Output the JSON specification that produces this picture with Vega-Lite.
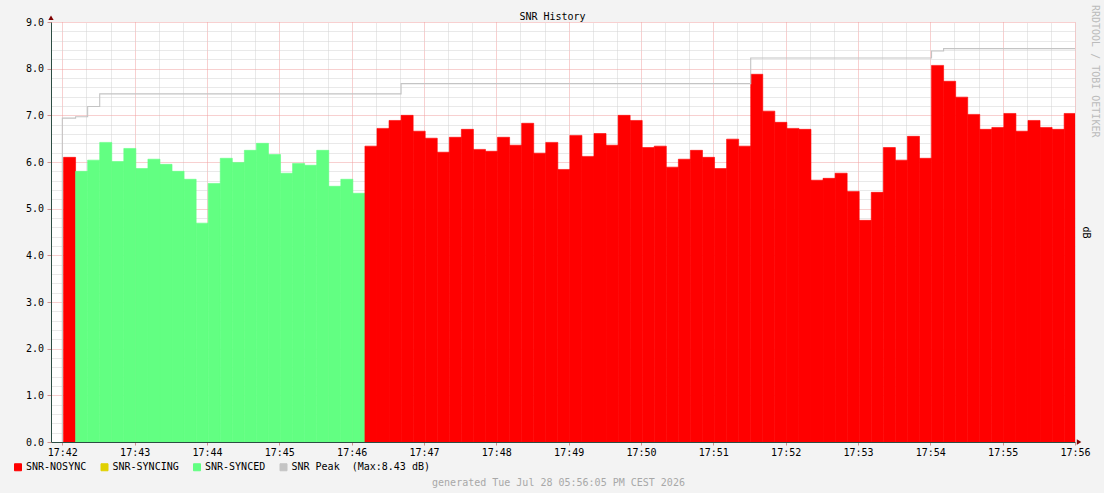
{
  "$schema": "https://vega.github.io/schema/vega-lite/v6.json",
  "description": "SNR History, rrdtool style",
  "width": 1024,
  "height": 420,
  "autosize": {"type": "none"},
  "padding": {"left": 51, "top": 22, "right": 29, "bottom": 51},
  "config": {
    "background": "#f3f3f3",
    "view": {"stroke": null, "fill": "#ffffff"},
    "font": "DejaVu Sans Mono"
  },
  "title": {
    "text": "RRDTOOL / TOBI OETIKER",
    "orient": "right",
    "anchor": "start",
    "frame": "bounds",
    "baseline": "alphabetic",
    "offset": -9,
    "dx": -6,
    "font": "DejaVu Sans Mono",
    "fontSize": 10,
    "fontWeight": "normal",
    "color": "#bbbbbb"
  },
  "datasets": {
    "snr": [
      {"t": "2026-07-28T17:42:01", "e": "2026-07-28T17:42:11", "v": 6.10, "s": "SNR-NOSYNC"},
      {"t": "2026-07-28T17:42:11", "e": "2026-07-28T17:42:21", "v": 5.80, "s": "SNR-SYNCED"},
      {"t": "2026-07-28T17:42:21", "e": "2026-07-28T17:42:31", "v": 6.04, "s": "SNR-SYNCED"},
      {"t": "2026-07-28T17:42:31", "e": "2026-07-28T17:42:41", "v": 6.42, "s": "SNR-SYNCED"},
      {"t": "2026-07-28T17:42:41", "e": "2026-07-28T17:42:51", "v": 6.01, "s": "SNR-SYNCED"},
      {"t": "2026-07-28T17:42:51", "e": "2026-07-28T17:43:01", "v": 6.29, "s": "SNR-SYNCED"},
      {"t": "2026-07-28T17:43:01", "e": "2026-07-28T17:43:11", "v": 5.86, "s": "SNR-SYNCED"},
      {"t": "2026-07-28T17:43:11", "e": "2026-07-28T17:43:21", "v": 6.06, "s": "SNR-SYNCED"},
      {"t": "2026-07-28T17:43:21", "e": "2026-07-28T17:43:31", "v": 5.95, "s": "SNR-SYNCED"},
      {"t": "2026-07-28T17:43:31", "e": "2026-07-28T17:43:41", "v": 5.80, "s": "SNR-SYNCED"},
      {"t": "2026-07-28T17:43:41", "e": "2026-07-28T17:43:51", "v": 5.63, "s": "SNR-SYNCED"},
      {"t": "2026-07-28T17:43:51", "e": "2026-07-28T17:44:01", "v": 4.69, "s": "SNR-SYNCED"},
      {"t": "2026-07-28T17:44:01", "e": "2026-07-28T17:44:11", "v": 5.54, "s": "SNR-SYNCED"},
      {"t": "2026-07-28T17:44:11", "e": "2026-07-28T17:44:21", "v": 6.08, "s": "SNR-SYNCED"},
      {"t": "2026-07-28T17:44:21", "e": "2026-07-28T17:44:31", "v": 5.99, "s": "SNR-SYNCED"},
      {"t": "2026-07-28T17:44:31", "e": "2026-07-28T17:44:41", "v": 6.25, "s": "SNR-SYNCED"},
      {"t": "2026-07-28T17:44:41", "e": "2026-07-28T17:44:51", "v": 6.40, "s": "SNR-SYNCED"},
      {"t": "2026-07-28T17:44:51", "e": "2026-07-28T17:45:01", "v": 6.16, "s": "SNR-SYNCED"},
      {"t": "2026-07-28T17:45:01", "e": "2026-07-28T17:45:11", "v": 5.76, "s": "SNR-SYNCED"},
      {"t": "2026-07-28T17:45:11", "e": "2026-07-28T17:45:21", "v": 5.97, "s": "SNR-SYNCED"},
      {"t": "2026-07-28T17:45:21", "e": "2026-07-28T17:45:31", "v": 5.93, "s": "SNR-SYNCED"},
      {"t": "2026-07-28T17:45:31", "e": "2026-07-28T17:45:41", "v": 6.25, "s": "SNR-SYNCED"},
      {"t": "2026-07-28T17:45:41", "e": "2026-07-28T17:45:51", "v": 5.48, "s": "SNR-SYNCED"},
      {"t": "2026-07-28T17:45:51", "e": "2026-07-28T17:46:01", "v": 5.63, "s": "SNR-SYNCED"},
      {"t": "2026-07-28T17:46:01", "e": "2026-07-28T17:46:11", "v": 5.33, "s": "SNR-SYNCED"},
      {"t": "2026-07-28T17:46:11", "e": "2026-07-28T17:46:21", "v": 6.34, "s": "SNR-NOSYNC"},
      {"t": "2026-07-28T17:46:21", "e": "2026-07-28T17:46:31", "v": 6.72, "s": "SNR-NOSYNC"},
      {"t": "2026-07-28T17:46:31", "e": "2026-07-28T17:46:41", "v": 6.89, "s": "SNR-NOSYNC"},
      {"t": "2026-07-28T17:46:41", "e": "2026-07-28T17:46:51", "v": 7.00, "s": "SNR-NOSYNC"},
      {"t": "2026-07-28T17:46:51", "e": "2026-07-28T17:47:01", "v": 6.66, "s": "SNR-NOSYNC"},
      {"t": "2026-07-28T17:47:01", "e": "2026-07-28T17:47:11", "v": 6.51, "s": "SNR-NOSYNC"},
      {"t": "2026-07-28T17:47:11", "e": "2026-07-28T17:47:21", "v": 6.21, "s": "SNR-NOSYNC"},
      {"t": "2026-07-28T17:47:21", "e": "2026-07-28T17:47:31", "v": 6.53, "s": "SNR-NOSYNC"},
      {"t": "2026-07-28T17:47:31", "e": "2026-07-28T17:47:41", "v": 6.70, "s": "SNR-NOSYNC"},
      {"t": "2026-07-28T17:47:41", "e": "2026-07-28T17:47:51", "v": 6.27, "s": "SNR-NOSYNC"},
      {"t": "2026-07-28T17:47:51", "e": "2026-07-28T17:48:01", "v": 6.23, "s": "SNR-NOSYNC"},
      {"t": "2026-07-28T17:48:01", "e": "2026-07-28T17:48:11", "v": 6.53, "s": "SNR-NOSYNC"},
      {"t": "2026-07-28T17:48:11", "e": "2026-07-28T17:48:21", "v": 6.36, "s": "SNR-NOSYNC"},
      {"t": "2026-07-28T17:48:21", "e": "2026-07-28T17:48:31", "v": 6.83, "s": "SNR-NOSYNC"},
      {"t": "2026-07-28T17:48:31", "e": "2026-07-28T17:48:41", "v": 6.19, "s": "SNR-NOSYNC"},
      {"t": "2026-07-28T17:48:41", "e": "2026-07-28T17:48:51", "v": 6.42, "s": "SNR-NOSYNC"},
      {"t": "2026-07-28T17:48:51", "e": "2026-07-28T17:49:01", "v": 5.84, "s": "SNR-NOSYNC"},
      {"t": "2026-07-28T17:49:01", "e": "2026-07-28T17:49:11", "v": 6.57, "s": "SNR-NOSYNC"},
      {"t": "2026-07-28T17:49:11", "e": "2026-07-28T17:49:21", "v": 6.12, "s": "SNR-NOSYNC"},
      {"t": "2026-07-28T17:49:21", "e": "2026-07-28T17:49:31", "v": 6.61, "s": "SNR-NOSYNC"},
      {"t": "2026-07-28T17:49:31", "e": "2026-07-28T17:49:41", "v": 6.36, "s": "SNR-NOSYNC"},
      {"t": "2026-07-28T17:49:41", "e": "2026-07-28T17:49:51", "v": 7.00, "s": "SNR-NOSYNC"},
      {"t": "2026-07-28T17:49:51", "e": "2026-07-28T17:50:01", "v": 6.89, "s": "SNR-NOSYNC"},
      {"t": "2026-07-28T17:50:01", "e": "2026-07-28T17:50:11", "v": 6.31, "s": "SNR-NOSYNC"},
      {"t": "2026-07-28T17:50:11", "e": "2026-07-28T17:50:21", "v": 6.34, "s": "SNR-NOSYNC"},
      {"t": "2026-07-28T17:50:21", "e": "2026-07-28T17:50:31", "v": 5.89, "s": "SNR-NOSYNC"},
      {"t": "2026-07-28T17:50:31", "e": "2026-07-28T17:50:41", "v": 6.06, "s": "SNR-NOSYNC"},
      {"t": "2026-07-28T17:50:41", "e": "2026-07-28T17:50:51", "v": 6.25, "s": "SNR-NOSYNC"},
      {"t": "2026-07-28T17:50:51", "e": "2026-07-28T17:51:01", "v": 6.10, "s": "SNR-NOSYNC"},
      {"t": "2026-07-28T17:51:01", "e": "2026-07-28T17:51:11", "v": 5.86, "s": "SNR-NOSYNC"},
      {"t": "2026-07-28T17:51:11", "e": "2026-07-28T17:51:21", "v": 6.49, "s": "SNR-NOSYNC"},
      {"t": "2026-07-28T17:51:21", "e": "2026-07-28T17:51:31", "v": 6.34, "s": "SNR-NOSYNC"},
      {"t": "2026-07-28T17:51:31", "e": "2026-07-28T17:51:41", "v": 7.88, "s": "SNR-NOSYNC"},
      {"t": "2026-07-28T17:51:41", "e": "2026-07-28T17:51:51", "v": 7.09, "s": "SNR-NOSYNC"},
      {"t": "2026-07-28T17:51:51", "e": "2026-07-28T17:52:01", "v": 6.85, "s": "SNR-NOSYNC"},
      {"t": "2026-07-28T17:52:01", "e": "2026-07-28T17:52:11", "v": 6.72, "s": "SNR-NOSYNC"},
      {"t": "2026-07-28T17:52:11", "e": "2026-07-28T17:52:21", "v": 6.70, "s": "SNR-NOSYNC"},
      {"t": "2026-07-28T17:52:21", "e": "2026-07-28T17:52:31", "v": 5.61, "s": "SNR-NOSYNC"},
      {"t": "2026-07-28T17:52:31", "e": "2026-07-28T17:52:41", "v": 5.65, "s": "SNR-NOSYNC"},
      {"t": "2026-07-28T17:52:41", "e": "2026-07-28T17:52:51", "v": 5.76, "s": "SNR-NOSYNC"},
      {"t": "2026-07-28T17:52:51", "e": "2026-07-28T17:53:01", "v": 5.37, "s": "SNR-NOSYNC"},
      {"t": "2026-07-28T17:53:01", "e": "2026-07-28T17:53:11", "v": 4.75, "s": "SNR-NOSYNC"},
      {"t": "2026-07-28T17:53:11", "e": "2026-07-28T17:53:21", "v": 5.35, "s": "SNR-NOSYNC"},
      {"t": "2026-07-28T17:53:21", "e": "2026-07-28T17:53:31", "v": 6.31, "s": "SNR-NOSYNC"},
      {"t": "2026-07-28T17:53:31", "e": "2026-07-28T17:53:41", "v": 6.04, "s": "SNR-NOSYNC"},
      {"t": "2026-07-28T17:53:41", "e": "2026-07-28T17:53:51", "v": 6.55, "s": "SNR-NOSYNC"},
      {"t": "2026-07-28T17:53:51", "e": "2026-07-28T17:54:01", "v": 6.08, "s": "SNR-NOSYNC"},
      {"t": "2026-07-28T17:54:01", "e": "2026-07-28T17:54:11", "v": 8.07, "s": "SNR-NOSYNC"},
      {"t": "2026-07-28T17:54:11", "e": "2026-07-28T17:54:21", "v": 7.73, "s": "SNR-NOSYNC"},
      {"t": "2026-07-28T17:54:21", "e": "2026-07-28T17:54:31", "v": 7.39, "s": "SNR-NOSYNC"},
      {"t": "2026-07-28T17:54:31", "e": "2026-07-28T17:54:41", "v": 7.02, "s": "SNR-NOSYNC"},
      {"t": "2026-07-28T17:54:41", "e": "2026-07-28T17:54:51", "v": 6.70, "s": "SNR-NOSYNC"},
      {"t": "2026-07-28T17:54:51", "e": "2026-07-28T17:55:01", "v": 6.74, "s": "SNR-NOSYNC"},
      {"t": "2026-07-28T17:55:01", "e": "2026-07-28T17:55:11", "v": 7.04, "s": "SNR-NOSYNC"},
      {"t": "2026-07-28T17:55:11", "e": "2026-07-28T17:55:21", "v": 6.66, "s": "SNR-NOSYNC"},
      {"t": "2026-07-28T17:55:21", "e": "2026-07-28T17:55:31", "v": 6.89, "s": "SNR-NOSYNC"},
      {"t": "2026-07-28T17:55:31", "e": "2026-07-28T17:55:41", "v": 6.74, "s": "SNR-NOSYNC"},
      {"t": "2026-07-28T17:55:41", "e": "2026-07-28T17:55:51", "v": 6.70, "s": "SNR-NOSYNC"},
      {"t": "2026-07-28T17:55:51", "e": "2026-07-28T17:56:01", "v": 7.04, "s": "SNR-NOSYNC"}
    ],
    "peak": [
      {"t": "2026-07-28T17:42:00", "v": 0},
      {"t": "2026-07-28T17:42:00", "v": 6.94},
      {"t": "2026-07-28T17:42:11", "v": 6.97},
      {"t": "2026-07-28T17:42:21", "v": 7.19},
      {"t": "2026-07-28T17:42:31", "v": 7.46},
      {"t": "2026-07-28T17:46:41", "v": 7.68},
      {"t": "2026-07-28T17:51:31", "v": 8.23},
      {"t": "2026-07-28T17:54:01", "v": 8.38},
      {"t": "2026-07-28T17:54:11", "v": 8.43},
      {"t": "2026-07-28T17:56:00", "v": 8.43}
    ]
  },
  "resolve": {"axis": {"x": "independent", "y": "independent"}},
  "layer": [
    {
      "data": {"name": "snr"},
      "mark": {"type": "rect", "clip": true, "strokeWidth": 0.6},
      "encoding": {
        "x": {
          "field": "t",
          "type": "temporal",
          "scale": {
            "domain": [
              {"year": 2026, "month": 7, "date": 28, "hours": 17, "minutes": 41, "seconds": 50, "milliseconds": 600},
              {"year": 2026, "month": 7, "date": 28, "hours": 17, "minutes": 56, "seconds": 0}
            ]
          },
          "axis": {
            "orient": "bottom",
            "title": "generated Tue Jul 28 05:56:05 PM CEST 2026",
            "titleFont": "DejaVu Sans Mono",
            "titleFontSize": 10,
            "titleFontWeight": "normal",
            "titleColor": "#a8a8a8",
            "titleX": 507,
            "titleY": 43,
            "titleAlign": "center",
            "titleBaseline": "alphabetic",
            "tickCount": 14,
            "format": "%H:%M",
            "labelFont": "DejaVu Sans Mono",
            "labelFontSize": 10,
            "labelColor": "#000000",
            "labelPadding": 2,
            "labelOverlap": false,
            "labelFlush": false,
            "tickSize": 3,
            "tickColor": "#d09090",
            "grid": true,
            "gridDash": [1, 1],
            "gridColor": "#f0a0a0",
            "domainColor": "#2c4d43"
          }
        },
        "x2": {"field": "e"},
        "y": {
          "field": "v",
          "type": "quantitative",
          "scale": {"domain": [0, 9], "nice": false, "zero": true},
          "axis": {
            "orient": "left",
            "title": null,
            "values": [0, 1, 2, 3, 4, 5, 6, 7, 8, 9],
            "format": ".1f",
            "labelFont": "DejaVu Sans Mono",
            "labelFontSize": 10,
            "labelColor": "#000000",
            "labelPadding": 3.5,
            "labelOverlap": false,
            "labelFlush": false,
            "tickSize": 4,
            "tickColor": "#d09090",
            "grid": true,
            "gridDash": [1, 1],
            "gridColor": "#f0a0a0",
            "domainColor": "#2c4d43"
          }
        },
        "y2": {"datum": 0},
        "color": {
          "field": "s",
          "type": "nominal",
          "scale": {
            "domain": ["SNR-NOSYNC", "SNR-SYNCING", "SNR-SYNCED", "SNR Peak\u00a0\u00a0(Max:8.43 dB)"],
            "range": ["#ff0000", "#e0d000", "#62ff82", "#c4c4c4"]
          },
          "legend": {
            "orient": "none",
            "legendX": -38,
            "legendY": 440,
            "direction": "horizontal",
            "title": null,
            "symbolType": "square",
            "symbolSize": 49,
            "symbolStrokeColor": "#000000",
            "symbolStrokeWidth": 1,
            "symbolOpacity": 1,
            "labelFont": "DejaVu Sans Mono",
            "labelFontSize": 10,
            "labelColor": "#000000",
            "labelOffset": 3,
            "columnPadding": 11.5,
            "labelLimit": 400
          }
        },
        "stroke": {
          "field": "s",
          "type": "nominal",
          "scale": {
            "domain": ["SNR-NOSYNC", "SNR-SYNCING", "SNR-SYNCED", "SNR Peak\u00a0\u00a0(Max:8.43 dB)"],
            "range": ["#ff0000", "#e0d000", "#62ff82", "#c4c4c4"]
          },
          "legend": null
        }
      }
    },
    {
      "data": {"name": "peak"},
      "mark": {"type": "line", "interpolate": "step-after", "strokeWidth": 1.1, "color": "#c4c4c4"},
      "encoding": {
        "x": {
          "field": "t",
          "type": "temporal",
          "axis": {
            "orient": "top",
            "title": "SNR History",
            "titleFont": "DejaVu Sans Mono",
            "titleFontSize": 10,
            "titleFontWeight": "normal",
            "titleColor": "#000000",
            "titleX": 501,
            "titleY": -3,
            "titleAlign": "center",
            "titleBaseline": "alphabetic",
            "values": [
              {"year": 2026, "month": 7, "date": 28, "hours": 17, "minutes": 42, "seconds": 20},
              {"year": 2026, "month": 7, "date": 28, "hours": 17, "minutes": 42, "seconds": 40},
              {"year": 2026, "month": 7, "date": 28, "hours": 17, "minutes": 43, "seconds": 20},
              {"year": 2026, "month": 7, "date": 28, "hours": 17, "minutes": 43, "seconds": 40},
              {"year": 2026, "month": 7, "date": 28, "hours": 17, "minutes": 44, "seconds": 20},
              {"year": 2026, "month": 7, "date": 28, "hours": 17, "minutes": 44, "seconds": 40},
              {"year": 2026, "month": 7, "date": 28, "hours": 17, "minutes": 45, "seconds": 20},
              {"year": 2026, "month": 7, "date": 28, "hours": 17, "minutes": 45, "seconds": 40},
              {"year": 2026, "month": 7, "date": 28, "hours": 17, "minutes": 46, "seconds": 20},
              {"year": 2026, "month": 7, "date": 28, "hours": 17, "minutes": 46, "seconds": 40},
              {"year": 2026, "month": 7, "date": 28, "hours": 17, "minutes": 47, "seconds": 20},
              {"year": 2026, "month": 7, "date": 28, "hours": 17, "minutes": 47, "seconds": 40},
              {"year": 2026, "month": 7, "date": 28, "hours": 17, "minutes": 48, "seconds": 20},
              {"year": 2026, "month": 7, "date": 28, "hours": 17, "minutes": 48, "seconds": 40},
              {"year": 2026, "month": 7, "date": 28, "hours": 17, "minutes": 49, "seconds": 20},
              {"year": 2026, "month": 7, "date": 28, "hours": 17, "minutes": 49, "seconds": 40},
              {"year": 2026, "month": 7, "date": 28, "hours": 17, "minutes": 50, "seconds": 20},
              {"year": 2026, "month": 7, "date": 28, "hours": 17, "minutes": 50, "seconds": 40},
              {"year": 2026, "month": 7, "date": 28, "hours": 17, "minutes": 51, "seconds": 20},
              {"year": 2026, "month": 7, "date": 28, "hours": 17, "minutes": 51, "seconds": 40},
              {"year": 2026, "month": 7, "date": 28, "hours": 17, "minutes": 52, "seconds": 20},
              {"year": 2026, "month": 7, "date": 28, "hours": 17, "minutes": 52, "seconds": 40},
              {"year": 2026, "month": 7, "date": 28, "hours": 17, "minutes": 53, "seconds": 20},
              {"year": 2026, "month": 7, "date": 28, "hours": 17, "minutes": 53, "seconds": 40},
              {"year": 2026, "month": 7, "date": 28, "hours": 17, "minutes": 54, "seconds": 20},
              {"year": 2026, "month": 7, "date": 28, "hours": 17, "minutes": 54, "seconds": 40},
              {"year": 2026, "month": 7, "date": 28, "hours": 17, "minutes": 55, "seconds": 20},
              {"year": 2026, "month": 7, "date": 28, "hours": 17, "minutes": 55, "seconds": 40}
            ],
            "labels": false,
            "ticks": false,
            "domain": false,
            "grid": true,
            "gridDash": [1, 1],
            "gridColor": "#d2d2d2"
          }
        },
        "y": {
          "field": "v",
          "type": "quantitative",
          "axis": {
            "orient": "right",
            "title": "dB",
            "titleFont": "DejaVu Sans Mono",
            "titleFontSize": 10,
            "titleFontWeight": "normal",
            "titleColor": "#000000",
            "titleAngle": 90,
            "titleX": 10.5,
            "titleY": 210,
            "titleAlign": "center",
            "titleBaseline": "middle",
            "values": [0.2, 0.4, 0.6, 0.8, 1.2, 1.4, 1.6, 1.8, 2.2, 2.4, 2.6, 2.8, 3.2, 3.4, 3.6, 3.8, 4.2, 4.4, 4.6, 4.8, 5.2, 5.4, 5.6, 5.8, 6.2, 6.4, 6.6, 6.8, 7.2, 7.4, 7.6, 7.8, 8.2, 8.4, 8.6, 8.8],
            "labels": false,
            "ticks": false,
            "domain": false,
            "grid": true,
            "gridDash": [1, 1],
            "gridColor": "#d2d2d2"
          }
        }
      }
    },
    {
      "data": {"values": [{"k": 1}]},
      "mark": {"type": "point", "shape": "triangle-up", "size": 28, "filled": true, "fill": "#7f0000", "opacity": 1, "strokeWidth": 0},
      "encoding": {
        "x": {"datum": {"year": 2026, "month": 7, "date": 28, "hours": 17, "minutes": 41, "seconds": 50, "milliseconds": 600}, "type": "temporal", "axis": null},
        "y": {"datum": 9.09, "type": "quantitative", "axis": null}
      }
    },
    {
      "data": {"values": [{"k": 1}]},
      "mark": {"type": "point", "shape": "triangle-right", "size": 28, "filled": true, "fill": "#7f0000", "opacity": 1, "strokeWidth": 0},
      "encoding": {
        "x": {"datum": {"year": 2026, "month": 7, "date": 28, "hours": 17, "minutes": 56, "seconds": 3, "milliseconds": 400}, "type": "temporal", "axis": null},
        "y": {"datum": 0, "type": "quantitative", "axis": null}
      }
    }
  ]
}
